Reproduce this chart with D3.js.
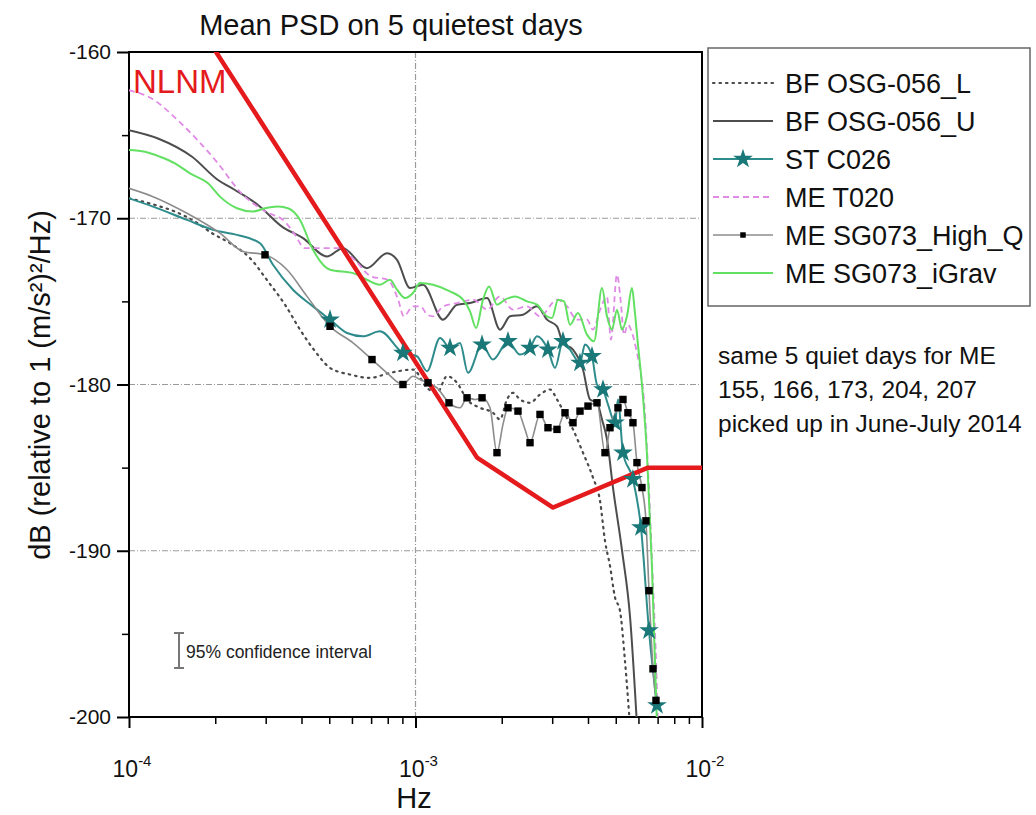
<!DOCTYPE html>
<html>
<head>
<meta charset="utf-8">
<script src="https://cdn.jsdelivr.net/npm/d3@7"></script>
<style>
  body { margin: 0; background: #fff; }
  text { font-family: "Liberation Sans", Arial, sans-serif; }
</style>
</head>
<body>
<div id="chart"></div>
<script>
// ---- data (Hz, dB) ----
const nlnmFreq = [1.8e-4, 1.64e-3, 3.02e-3, 6.48e-3, 1e-2];
const nlnmDb   = [-158.7, -184.4, -187.4, -185.0, -185.0];

const bfLFreq = [1.0e-4, 1.232e-4, 1.447e-4, 1.70e-4, 1.949e-4, 2.252e-4, 2.645e-4, 3.056e-4, 3.504e-4, 3.953e-4,
  4.46e-4, 5.031e-4, 5.908e-4, 6.935e-4, 8.15e-4, 9.80e-4, 1.097e-3, 1.189e-3, 1.288e-3, 1.396e-3,
  1.513e-3, 1.68e-3, 1.864e-3, 1.972e-3, 2.086e-3, 2.189e-3, 2.316e-3, 2.51e-3, 2.72e-3, 2.948e-3,
  3.118e-3, 3.325e-3, 3.546e-3, 3.842e-3, 4.164e-3, 4.406e-3, 4.586e-3, 4.773e-3, 4.969e-3, 5.172e-3,
  5.383e-3, 5.604e-3];
const bfLDb = [-168.8, -169.2, -169.6, -170.2, -170.9, -171.5, -172.4, -173.8, -175.2, -176.7,
  -178.0, -179.0, -179.4, -179.6, -179.3, -179.1, -180.2, -180.5, -179.5, -179.9,
  -180.9, -181.4, -181.7, -182.1, -180.9, -180.5, -180.9, -181.1, -180.6, -180.3,
  -180.9, -181.8, -182.7, -184.1, -185.6, -187.0, -189.4, -190.9, -192.8, -193.6,
  -196.6, -200.5];

const bfUFreq = [1.0e-4, 1.262e-4, 1.66e-4, 2.045e-4, 2.344e-4, 2.82e-4, 3.42e-4, 4.05e-4, 4.91e-4, 5.58e-4,
  6.77e-4, 7.95e-4, 8.62e-4, 9.57e-4, 1.062e-3, 1.247e-3, 1.396e-3, 1.55e-3, 1.777e-3, 1.972e-3,
  2.137e-3, 2.372e-3, 2.655e-3, 2.877e-3, 3.118e-3, 3.27e-3, 3.545e-3, 3.842e-3, 4.064e-3, 4.3e-3,
  4.477e-3, 4.66e-3, 4.89e-3, 5.26e-3, 5.61e-3, 5.93e-3];
const bfUDb = [-164.7, -165.2, -166.3, -167.7, -168.3, -169.2, -170.5, -171.2, -172.3, -171.8,
  -173.0, -172.1, -172.5, -174.2, -174.0, -176.1, -175.2, -175.1, -174.8, -176.7,
  -175.9, -175.8, -175.3, -176.1, -176.5, -177.5, -177.9, -179.1, -180.9, -181.1,
  -182.1, -183.3, -186.2, -190.0, -194.0, -200.5];

const stFreq = [1.0e-4, 1.213e-4, 1.594e-4, 1.965e-4, 2.382e-4, 2.866e-4, 3.181e-4, 3.736e-4, 4.388e-4, 5.031e-4,
  5.768e-4, 6.556e-4, 7.515e-4, 9.04e-4, 1.012e-3, 1.097e-3, 1.218e-3, 1.32e-3, 1.43e-3, 1.525e-3,
  1.707e-3, 1.864e-3, 2.103e-3, 2.316e-3, 2.51e-3, 2.655e-3, 2.9e-3, 3.069e-3, 3.272e-3, 3.462e-3,
  3.751e-3, 3.904e-3, 4.131e-3, 4.3e-3, 4.513e-3, 4.697e-3, 4.969e-3, 5.09e-3, 5.298e-3, 5.741e-3,
  6.123e-3, 6.531e-3, 6.964e-3];
const stDb = [-168.8, -169.3, -170.1, -170.7, -171.0, -171.5, -172.8, -174.3, -175.3, -176.1,
  -176.9, -177.1, -176.8, -178.1, -178.3, -179.2, -177.2, -177.8, -177.5, -179.3,
  -177.6, -178.5, -177.4, -178.2, -177.8, -177.1, -177.9, -179.0, -177.4, -177.9,
  -178.7, -177.6, -178.3, -180.0, -180.3, -181.2, -182.3, -180.9, -184.1, -185.7,
  -188.6, -194.8, -199.3];
const stStars = [9, 13, 17, 20, 22, 24, 26, 28, 30, 32, 34, 36, 38, 39, 40, 41, 42];

const t020Freq = [1.0e-4, 1.2e-4, 1.5e-4, 2.0e-4, 2.5e-4, 3.0e-4, 3.5e-4, 3.8e-4, 4.1e-4, 5.45e-4,
  6.2e-4, 7.0e-4, 8.0e-4, 8.7e-4, 9.1e-4, 9.8e-4, 1.04e-3, 1.10e-3, 1.15e-3, 1.25e-3,
  1.40e-3, 1.59e-3, 1.78e-3, 1.97e-3, 2.19e-3, 2.45e-3, 2.72e-3, 3.12e-3, 3.38e-3, 3.66e-3,
  3.97e-3, 4.16e-3, 4.41e-3, 4.66e-3, 4.81e-3, 5.05e-3, 5.21e-3, 5.34e-3, 5.51e-3, 5.65e-3,
  5.93e-3, 6.12e-3, 6.27e-3, 6.48e-3, 6.69e-3, 6.91e-3, 7.02e-3];
const t020Db = [-162.3, -162.8, -164.2, -166.5, -168.6, -169.6, -170.2, -171.0, -171.8, -171.8,
  -172.6, -173.5, -173.7, -174.9, -175.9, -175.3, -175.3, -175.8, -175.9, -175.3,
  -175.1, -174.9, -175.5, -174.7, -175.5, -175.3, -175.9, -174.9, -175.3, -176.1,
  -176.1, -176.7, -175.5, -174.7, -177.3, -173.4, -175.1, -177.0, -176.4, -176.7,
  -178.1, -179.4, -180.9, -185.1, -190.6, -196.6, -200.5];

const highQFreq = [1.0e-4, 1.213e-4, 1.594e-4, 2.078e-4, 2.5e-4, 2.983e-4, 3.561e-4, 4.182e-4, 5.031e-4, 6.052e-4,
  7.05e-4, 7.95e-4, 9.04e-4, 9.8e-4, 1.037e-3, 1.106e-3, 1.189e-3, 1.309e-3, 1.43e-3, 1.513e-3,
  1.614e-3, 1.707e-3, 1.82e-3, 1.925e-3, 2.02e-3, 2.103e-3, 2.279e-3, 2.411e-3, 2.51e-3, 2.72e-3,
  2.9e-3, 3.118e-3, 3.325e-3, 3.546e-3, 3.751e-3, 4.0e-3, 4.3e-3, 4.586e-3, 4.773e-3, 5.09e-3,
  5.298e-3, 5.514e-3, 5.741e-3, 5.929e-3, 6.172e-3, 6.374e-3, 6.531e-3, 6.745e-3, 6.908e-3];
const highQDb = [-168.2, -168.7, -169.7, -170.9, -172.0, -172.2, -173.1, -174.7, -176.5, -177.5,
  -178.5, -179.3, -180.0, -179.5, -179.7, -179.9, -180.2, -181.1, -181.4, -180.8,
  -180.9, -180.8, -181.4, -184.1, -182.4, -181.4, -181.6, -182.7, -183.5, -181.8,
  -182.6, -182.7, -181.7, -182.3, -181.6, -181.3, -181.1, -184.1, -182.6, -181.4,
  -180.9, -181.7, -182.3, -184.7, -186.2, -188.2, -192.4, -197.1, -199.0];
const highQSquares = [5, 8, 10, 12, 15, 17, 19, 21, 23, 25, 26, 28, 29, 30, 31, 32, 33, 34, 35, 36,
  37, 38, 39, 40, 41, 42, 43, 44, 45, 46, 47, 48];

const iGravFreq = [1.0e-4, 1.137e-4, 1.283e-4, 1.447e-4, 1.633e-4, 1.887e-4, 2.078e-4, 2.382e-4, 2.709e-4, 2.983e-4,
  3.312e-4, 3.589e-4, 3.953e-4, 4.388e-4, 5.031e-4, 6.052e-4, 6.77e-4, 7.515e-4, 8.15e-4, 8.62e-4,
  9.19e-4, 9.8e-4, 1.037e-3, 1.151e-3, 1.32e-3, 1.465e-3, 1.55e-3, 1.627e-3, 1.72e-3, 1.806e-3,
  1.925e-3, 2.053e-3, 2.225e-3, 2.45e-3, 2.655e-3, 2.877e-3, 2.996e-3, 3.144e-3, 3.299e-3, 3.462e-3,
  3.691e-3, 3.968e-3, 4.198e-3, 4.477e-3, 4.66e-3, 4.85e-3, 5.05e-3, 5.256e-3, 5.47e-3, 5.695e-3,
  5.834e-3, 5.977e-3, 6.172e-3, 6.426e-3, 6.69e-3, 6.964e-3];
const iGravDb = [-165.9, -166.0, -166.3, -166.7, -167.3, -167.9, -168.7, -169.4, -169.6, -169.4,
  -169.3, -169.4, -170.1, -171.9, -173.1, -173.3, -173.7, -174.0, -173.7, -174.3,
  -174.8, -174.5, -173.9, -174.0, -174.4, -174.9, -175.6, -176.6, -174.9, -174.1,
  -175.2, -174.9, -174.7, -175.0, -175.2, -175.9, -176.0, -174.9, -175.0, -176.4,
  -175.7, -177.0, -177.4, -174.2, -175.9, -176.7, -175.5, -176.7, -175.9, -174.2,
  -175.7, -177.6, -180.0, -184.2, -191.0, -200.5];

const seriesNames = ["BF OSG-056_L", "BF OSG-056_U", "ST C026", "ME T020", "ME SG073_High_Q", "ME SG073_iGrav"];
const yTicks = [-160, -170, -180, -190, -200];
const xMajor = [1e-4, 1e-3, 1e-2];
const noteLines = ["same 5 quiet days for ME", "155, 166, 173, 204, 207", "picked up in June-July 2014"];

// ---- chart ----
const W = 1036, H = 815;
const pLeft = 129, pRight = 702, pTop = 52, pBottom = 717;

const svg = d3.select("#chart").append("svg")
    .attr("width", W)
    .attr("height", H);

const x = d3.scaleLog().domain([1e-4, 1e-2]).range([pLeft, pRight]);
const y = d3.scaleLinear().domain([-200, -160]).range([pBottom, pTop]);

svg.append("clipPath").attr("id", "plotclip")
  .append("rect").attr("x", pLeft).attr("y", pTop).attr("width", pRight - pLeft).attr("height", pBottom - pTop);

// grid lines
const grid = svg.append("g").attr("stroke", "#9a9a9a").attr("stroke-width", 1.2).attr("stroke-dasharray", "6,2,1,2");
grid.selectAll(".hg").data([-170, -180, -190]).enter().append("line")
    .attr("x1", pLeft).attr("x2", pRight).attr("y1", d => y(d)).attr("y2", d => y(d));
grid.append("line").attr("x1", x(1e-3)).attr("x2", x(1e-3)).attr("y1", pTop).attr("y2", pBottom);

// axes
const minorX = [];
[1e-4, 1e-3].forEach(dec => { for (let k = 2; k <= 9; k++) minorX.push(dec * k); });

svg.append("g")
    .attr("transform", `translate(0,${pBottom})`)
    .call(d3.axisBottom(x).tickValues(minorX).tickSize(7).tickFormat(""))
    .call(g => g.select(".domain").remove())
    .call(g => g.selectAll("line").attr("stroke", "#000").attr("stroke-width", 1.5));

svg.append("g")
    .attr("transform", `translate(0,${pBottom})`)
    .call(d3.axisBottom(x).tickValues(xMajor).tickSize(11).tickFormat(""))
    .call(g => g.select(".domain").remove())
    .call(g => g.selectAll("line").attr("stroke", "#000").attr("stroke-width", 2));

xMajor.forEach(v => {
  const t = svg.append("text")
      .attr("x", x(v) + 3)
      .attr("y", 777)
      .attr("text-anchor", "middle")
      .attr("font-size", 23)
      .attr("fill", "#111");
  t.append("tspan").text("10");
  t.append("tspan").attr("dy", -11).attr("font-size", 15).text(String(Math.round(Math.log10(v))));
});

svg.append("g")
    .attr("transform", `translate(${pLeft},0)`)
    .call(d3.axisLeft(y).tickValues([-165, -175, -185, -195]).tickSize(7).tickFormat(""))
    .call(g => g.select(".domain").remove())
    .call(g => g.selectAll("line").attr("stroke", "#000").attr("stroke-width", 1.5));

svg.append("g")
    .attr("transform", `translate(${pLeft},0)`)
    .call(d3.axisLeft(y).tickValues(yTicks).tickSize(12).tickPadding(6).tickFormat(d => d.toString()))
    .call(g => g.select(".domain").remove())
    .call(g => g.selectAll("line").attr("stroke", "#000").attr("stroke-width", 2))
    .call(g => g.selectAll("text")
        .attr("font-size", 21)
        .attr("font-family", "'Liberation Sans', Arial, sans-serif")
        .attr("fill", "#111"));

// frame
svg.append("rect")
    .attr("x", pLeft).attr("y", pTop)
    .attr("width", pRight - pLeft).attr("height", pBottom - pTop)
    .attr("fill", "none").attr("stroke", "#000").attr("stroke-width", 2);

// series
const line = d3.line()
    .x(d => x(d[0]))
    .y(d => y(d[1]))
    .curve(d3.curveMonotoneX);

const zip = (fs, ds) => fs.map((f, i) => [f, ds[i]]);

const series = [
  { name: seriesNames[0], data: zip(bfLFreq, bfLDb), color: "#4a4a4a", width: 2.2, dash: "1.5,5", cap: "round" },
  { name: seriesNames[1], data: zip(bfUFreq, bfUDb), color: "#4d4d4d", width: 2, dash: null },
  { name: seriesNames[2], data: zip(stFreq, stDb), color: "#2f8c8c", width: 2, dash: null, marks: stStars, sym: d3.symbolStar, msize: 120, mcolor: "#1b7878" },
  { name: seriesNames[3], data: zip(t020Freq, t020Db), color: "#e08ae6", width: 1.8, dash: "6,4" },
  { name: seriesNames[4], data: zip(highQFreq, highQDb), color: "#8c8c8c", width: 1.6, dash: null, marks: highQSquares, sym: d3.symbolSquare, msize: 55, mcolor: "#000" },
  { name: seriesNames[5], data: zip(iGravFreq, iGravDb), color: "#62e062", width: 2, dash: null }
];

const plot = svg.append("g").attr("clip-path", "url(#plotclip)");

series.forEach(s => {
  plot.append("path")
      .datum(s.data)
      .attr("fill", "none")
      .attr("stroke", s.color)
      .attr("stroke-width", s.width)
      .attr("stroke-dasharray", s.dash)
      .attr("stroke-linecap", s.cap || "butt")
      .attr("d", line);
});

// noise model
plot.append("path")
    .datum(zip(nlnmFreq, nlnmDb))
    .attr("fill", "none")
    .attr("stroke", "#e41a1c")
    .attr("stroke-width", 4.5)
    .attr("stroke-linejoin", "round")
    .attr("d", d3.line().x(d => x(d[0])).y(d => y(d[1])));

series.filter(s => s.marks).forEach(s => {
  plot.selectAll(null)
      .data(s.marks.map(i => s.data[i]))
      .enter()
      .append("path")
      .attr("transform", d => `translate(${x(d[0])},${y(d[1])})`)
      .attr("d", d3.symbol().type(s.sym).size(s.msize))
      .attr("fill", s.mcolor);
});

svg.append("text")
    .attr("x", 133).attr("y", 93)
    .attr("font-size", 33)
    .attr("fill", "#e41a1c")
    .text("NLNM");

// confidence interval marker
const ci = svg.append("g").attr("stroke", "#777").attr("stroke-width", 2);
ci.append("line").attr("x1", 179).attr("x2", 179).attr("y1", 633).attr("y2", 668);
ci.append("line").attr("x1", 174).attr("x2", 184).attr("y1", 633).attr("y2", 633);
ci.append("line").attr("x1", 174).attr("x2", 184).attr("y1", 668).attr("y2", 668);
svg.append("text")
    .attr("x", 186).attr("y", 658)
    .attr("font-size", 17.5)
    .attr("fill", "#222")
    .text("95% confidence interval");

// titles
svg.append("text")
    .attr("x", 391).attr("y", 35)
    .attr("text-anchor", "middle")
    .attr("font-size", 29)
    .attr("fill", "#111")
    .text("Mean PSD on 5 quietest days");

svg.append("text")
    .attr("x", 414).attr("y", 808)
    .attr("text-anchor", "middle")
    .attr("font-size", 29)
    .attr("fill", "#111")
    .text("Hz");

svg.append("text")
    .attr("transform", "translate(50,385) rotate(-90)")
    .attr("text-anchor", "middle")
    .attr("font-size", 29)
    .attr("fill", "#111")
    .text("dB (relative to 1 (m/s²)²/Hz)");

// legend
const lg = svg.append("g");
lg.append("rect")
    .attr("x", 708).attr("y", 48)
    .attr("width", 322).attr("height", 258)
    .attr("fill", "#fff").attr("stroke", "#666").attr("stroke-width", 1.5);

series.forEach((s, i) => {
  const cy = 83 + i * 38;
  lg.append("line")
      .attr("x1", 713).attr("x2", 773).attr("y1", cy).attr("y2", cy)
      .attr("stroke", s.color)
      .attr("stroke-width", s.width)
      .attr("stroke-dasharray", s.dash)
      .attr("stroke-linecap", s.cap || "butt");
  if (s.marks) {
    lg.append("path")
        .attr("transform", `translate(743,${cy})`)
        .attr("d", d3.symbol().type(s.sym).size(s.sym === d3.symbolSquare ? 30 : s.msize))
        .attr("fill", s.mcolor);
  }
  lg.append("text")
      .attr("x", 785).attr("y", cy + 10)
      .attr("font-size", 27)
      .attr("fill", "#111")
      .text(s.name);
});

// side note
noteLines.forEach((t, i) => {
  svg.append("text")
      .attr("x", 718).attr("y", 364 + i * 34)
      .attr("font-size", 24.5)
      .attr("fill", "#111")
      .text(t);
});
</script>
</body>
</html>
